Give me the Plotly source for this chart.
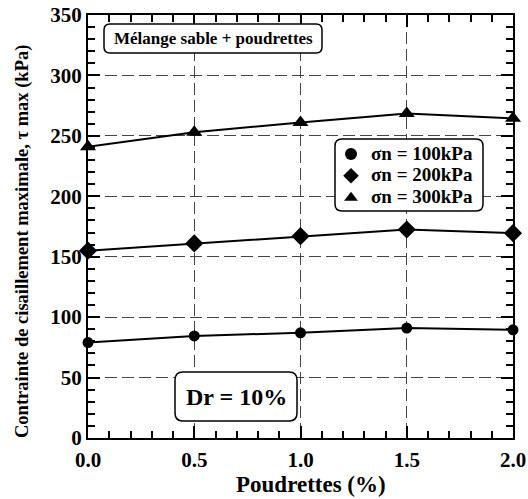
import plotly.graph_objects as go

poudrettes = [0.0, 0.5, 1.0, 1.5, 2.0]
tau_100 = [79, 84.5, 87, 91, 89.5]
tau_200 = [155, 161, 167, 172.5, 169.5]
tau_300 = [241, 253, 261, 268.5, 264.5]
series_names = ["σn = 100kPa", "σn = 200kPa", "σn = 300kPa"]
symbols = ["circle", "diamond", "triangle-up"]
marker_sizes = [11, 14, 14]

W, H = 528, 499
ML, MR, MT, MB = 88, 15, 15, 61
PW, PH = W - ML - MR, H - MT - MB
FONT = "Liberation Serif"

fig = go.Figure()
for name, ys, sym, ms in zip(series_names, [tau_100, tau_200, tau_300], symbols, marker_sizes):
    fig.add_trace(go.Scatter(x=poudrettes, y=ys, mode="lines+markers", showlegend=False,
                             line=dict(color="black", width=2),
                             marker=dict(symbol=sym, size=ms, color="black"),
                             cliponaxis=False))
for name, ys, sym, ms in zip(series_names, [tau_100, tau_200, tau_300], symbols, marker_sizes):
    fig.add_trace(go.Scatter(x=[None], y=[None], mode="markers",
                             name='<span style="font-size:19px"><b>%s</b></span>' % name,
                             marker=dict(symbol=sym, size=ms, color="black")))


def px2paper(x, y):
    return (x - ML) / PW, (H - MB - y) / PH


def rounded_rect(x0, y0, x1, y1, r):
    def P(x, y):
        px, py = px2paper(x, y)
        return f"{px:.5f},{py:.5f}"
    path = (f"M {P(x0 + r, y0)} L {P(x1 - r, y0)} Q {P(x1, y0)} {P(x1, y0 + r)} "
            f"L {P(x1, y1 - r)} Q {P(x1, y1)} {P(x1 - r, y1)} "
            f"L {P(x0 + r, y1)} Q {P(x0, y1)} {P(x0, y1 - r)} "
            f"L {P(x0, y0 + r)} Q {P(x0, y0)} {P(x0 + r, y0)} Z")
    return dict(type="path", xref="paper", yref="paper", path=path,
                line=dict(color="black", width=1.5), fillcolor="white", layer="above")


shapes = [
    rounded_rect(104, 24, 322, 53, 6),
    rounded_rect(335, 139, 483, 211, 7),
    rounded_rect(175, 372, 297, 421, 8),
]

ann = []
cx, cy = px2paper((104 + 322) / 2, (24 + 53) / 2)
ann.append(dict(x=cx, y=cy, xref="paper", yref="paper", xanchor="center", yanchor="middle",
                text="<b>Mélange sable + poudrettes</b>",
                showarrow=False, font=dict(family=FONT, size=17, color="black")))
cx, cy = px2paper((175 + 297) / 2, (372 + 421) / 2)
ann.append(dict(x=cx, y=cy, xref="paper", yref="paper", xanchor="center", yanchor="middle",
                text="<b>Dr = 10%</b>",
                showarrow=False, font=dict(family=FONT, size=24, color="black")))
# axis titles
cx, cy = px2paper(311, 484)
ann.append(dict(x=cx, y=cy, xref="paper", yref="paper", xanchor="center", yanchor="middle",
                text="<b>Poudrettes (%)</b>",
                showarrow=False, font=dict(family=FONT, size=23, color="black")))
cx, cy = px2paper(22, 242)
ann.append(dict(x=cx, y=cy, xref="paper", yref="paper", xanchor="center", yanchor="middle",
                text="<b>Contrainte de cisaillement maximale, τ max (kPa)</b>", textangle=-90,
                showarrow=False, font=dict(family=FONT, size=18.5, color="black")))

lx, ly = px2paper(331, 138)

fig.update_layout(
    width=W, height=H,
    margin=dict(l=ML, r=MR, t=MT, b=MB, autoexpand=False),
    paper_bgcolor="white", plot_bgcolor="white",
    font=dict(family=FONT, color="black"),
    shapes=shapes, annotations=ann,
    legend=dict(x=lx, y=ly, xanchor="left", yanchor="top", bgcolor="rgba(0,0,0,0)",
                borderwidth=0, font=dict(family=FONT, size=14.5),
                itemsizing="constant", tracegroupgap=0),
    xaxis=dict(range=[0, 2.0], tickvals=[0, 0.5, 1.0, 1.5, 2.0],
               ticktext=["<b>0.0</b>", "<b>0.5</b>", "<b>1.0</b>", "<b>1.5</b>", "<b>2.0</b>"],
               automargin=False, ticklabelstandoff=2,
               ticks="inside", ticklen=12, tickwidth=1.5, tickcolor="black",
               showline=True, linecolor="black", linewidth=2, mirror="allticks",
               showgrid=True, gridcolor="#444", griddash="12px,5px", gridwidth=1,
               zeroline=False,
               minor=dict(dtick=0.1, ticks="inside", ticklen=7, tickwidth=1.5, tickcolor="black", showgrid=False),
               tickfont=dict(family=FONT, size=21)),
    yaxis=dict(range=[0, 350], tickvals=[0, 50, 100, 150, 200, 250, 300, 350],
               ticktext=["<b>%d</b>" % v for v in [0, 50, 100, 150, 200, 250, 300, 350]],
               automargin=False,
               ticks="inside", ticklen=12, tickwidth=1.5, tickcolor="black",
               showline=True, linecolor="black", linewidth=2, mirror="allticks",
               showgrid=True, gridcolor="#444", griddash="12px,5px", gridwidth=1,
               zeroline=False,
               minor=dict(dtick=10, ticks="inside", ticklen=7, tickwidth=1.5, tickcolor="black", showgrid=False),
               tickfont=dict(family=FONT, size=21)),
)

fig.write_html("out.html")
